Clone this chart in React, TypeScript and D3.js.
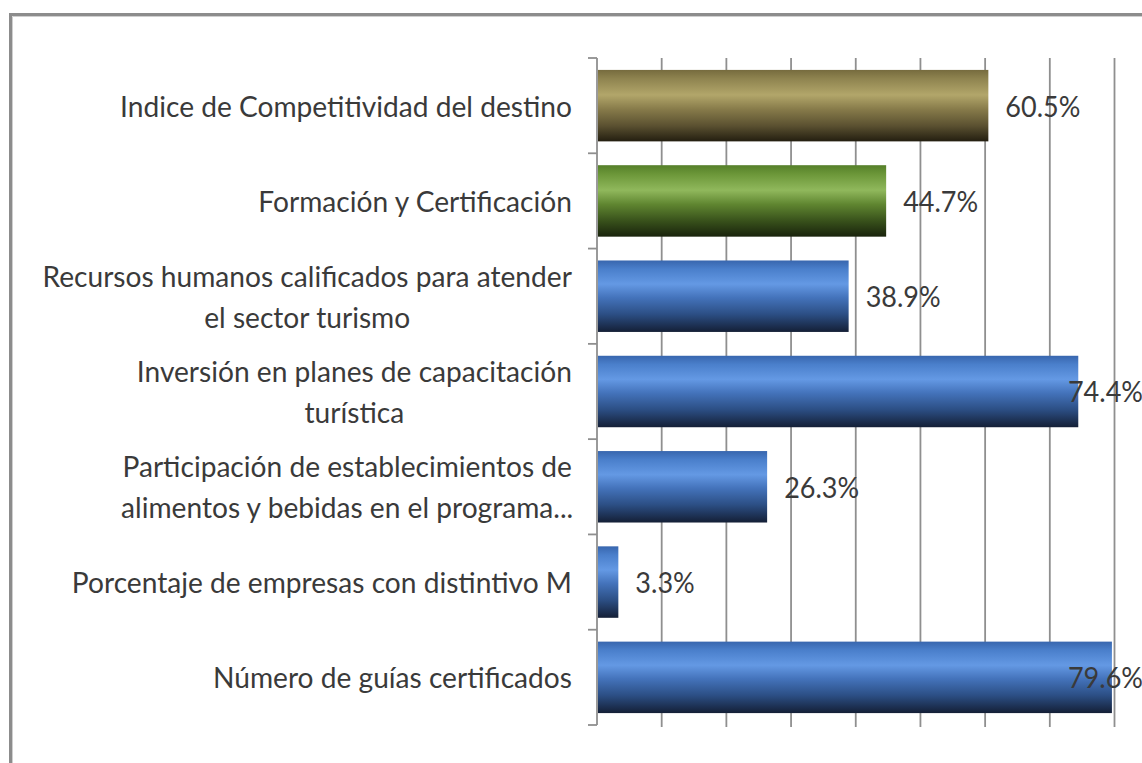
import React, { useEffect, useRef } from "react";
import * as d3 from "d3";

const categories: string[][] = [
  ["Indice de Competitividad del destino"],
  ["Formación y Certificación"],
  ["Recursos humanos calificados para atender", "el sector turismo"],
  ["Inversión en planes de capacitación", "turística"],
  ["Participación de establecimientos de", "alimentos y bebidas en el programa..."],
  ["Porcentaje de empresas con distintivo M"],
  ["Número de guías certificados"],
];
const values: number[] = [60.5, 44.7, 38.9, 74.4, 26.3, 3.3, 79.6];
const colorKeys: string[] = ["olive", "green", "blue", "blue", "blue", "blue", "blue"];
const xTicks: number[] = [0, 10, 20, 30, 40, 50, 60, 70, 80];

const W = 1142;
const H = 763;
const FONT = "Lato, 'Open Sans', sans-serif";

const gradients: Record<string, [number, string][]> = {
  olive: [
    [0, "#766b3e"],
    [0.12, "#8e834f"],
    [0.35, "#b2a66a"],
    [0.55, "#877b4a"],
    [0.78, "#5b5131"],
    [1, "#231e10"],
  ],
  green: [
    [0, "#557f29"],
    [0.12, "#6b9638"],
    [0.35, "#90b85c"],
    [0.55, "#5f8530"],
    [0.78, "#38511b"],
    [1, "#19230c"],
  ],
  blue: [
    [0, "#3866ae"],
    [0.12, "#4a7fcb"],
    [0.33, "#6499e4"],
    [0.52, "#4473bb"],
    [0.75, "#2c4f85"],
    [1, "#141f36"],
  ],
};

export default function App() {
  const ref = useRef<SVGSVGElement | null>(null);

  useEffect(() => {
    const svg = d3.select(ref.current);
    svg.selectAll("*").remove();

    const x0 = 597;
    const x = d3.scaleLinear().domain([0, 80]).range([x0, 1114.5]);
    const y = d3
      .scaleBand<number>()
      .domain(d3.range(categories.length))
      .range([58, 725])
      .paddingInner(0.25)
      .paddingOuter(0.125);

    const defs = svg.append("defs");
    Object.entries(gradients).forEach(([k, stops]) => {
      const g = defs
        .append("linearGradient")
        .attr("id", "grad-" + k)
        .attr("x1", 0)
        .attr("y1", 0)
        .attr("x2", 0)
        .attr("y2", 1);
      stops.forEach(([o, c]) => g.append("stop").attr("offset", o).attr("stop-color", c));
    });

    svg.append("rect").attr("width", W).attr("height", H).attr("fill", "#fff");

    // frame
    svg
      .append("path")
      .attr("d", `M10.5,${H + 5} L10.5,14.5 L${W + 5},14.5`)
      .attr("fill", "none")
      .attr("stroke", "#8c8c8c")
      .attr("stroke-width", 3);
    svg
      .append("path")
      .attr("d", `M12.5,${H + 5} L12.5,16.5 L${W + 5},16.5`)
      .attr("fill", "none")
      .attr("stroke", "#cfcfcf")
      .attr("stroke-width", 1);

    // gridlines
    svg
      .append("g")
      .selectAll("line")
      .data(xTicks.slice(1))
      .join("line")
      .attr("x1", (d) => x(d))
      .attr("x2", (d) => x(d))
      .attr("y1", 58)
      .attr("y2", 727)
      .attr("stroke", "#8f8f8f")
      .attr("stroke-width", 1.8);

    // y axis
    svg
      .append("line")
      .attr("x1", x0)
      .attr("x2", x0)
      .attr("y1", 58)
      .attr("y2", 725)
      .attr("stroke", "#8f8f8f")
      .attr("stroke-width", 1.8);
    const step = y.step();
    svg
      .append("g")
      .selectAll("line")
      .data(d3.range(categories.length + 1))
      .join("line")
      .attr("x1", x0 - 9)
      .attr("x2", x0)
      .attr("y1", (i) => 58 + i * step)
      .attr("y2", (i) => 58 + i * step)
      .attr("stroke", "#8f8f8f")
      .attr("stroke-width", 1.8);

    // bars
    svg
      .append("g")
      .selectAll("rect")
      .data(values)
      .join("rect")
      .attr("x", x0 + 1)
      .attr("y", (_, i) => y(i)!)
      .attr("width", (d) => x(d) - x0 - 1)
      .attr("height", y.bandwidth())
      .attr("fill", (_, i) => `url(#grad-${colorKeys[i]})`);

    // category labels
    const catG = svg.append("g");
    const lineH = 41;
    const labelRight = 572;
    const catGroups: any[] = [];
    categories.forEach((lines, i) => {
      const cy = y(i)! + y.bandwidth() / 2;
      const g = catG.append("g");
      const texts = lines.map((ln, j) =>
        g
          .append("text")
          .attr("y", cy + 11 + (j - (lines.length - 1) / 2) * lineH)
          .attr("text-anchor", "middle")
          .attr("font-family", FONT)
          .attr("font-size", 29)
          .attr("fill", "#3a3a3a")
          .text(ln)
      );
      catGroups.push({ g, texts });
    });
    // measure and compress horizontally like the reference
    const refW = (catGroups[0].texts[0].node() as SVGTextElement).getComputedTextLength();
    const sx = 452 / refW;
    catGroups.forEach(({ g, texts }, i) => {
      const widths = texts.map((t: any) => (t.node() as SVGTextElement).getComputedTextLength() * sx);
      const blockW = Math.max(...widths.slice(0, 1));
      const cx = labelRight - blockW / 2;
      g.attr("transform", `translate(${cx},0) scale(${sx},1)`);
    });

    // value labels
    const valG = svg.append("g");
    values.forEach((v, i) => {
      const cy = y(i)! + y.bandwidth() / 2;
      const t = valG
        .append("text")
        .attr("y", cy + 11)
        .attr("font-family", FONT)
        .attr("font-size", 29)
        .attr("fill", "#3a3a3a")
        .text(v.toFixed(1) + "%");
      const w = (t.node() as SVGTextElement).getComputedTextLength();
      const vsx = 75 / (valG.select("text").node() as SVGTextElement).getComputedTextLength();
      const tw = w * vsx;
      const lx = Math.min(x(v) + 17, 1143 - tw);
      t.attr("transform", `translate(${lx},0) scale(${vsx},1)`);
    });
  }, []);

  return (
    <svg
      ref={ref}
      width={W}
      height={H}
      style={{ position: "absolute", left: 0, top: 0, display: "block" }}
    />
  );
}
